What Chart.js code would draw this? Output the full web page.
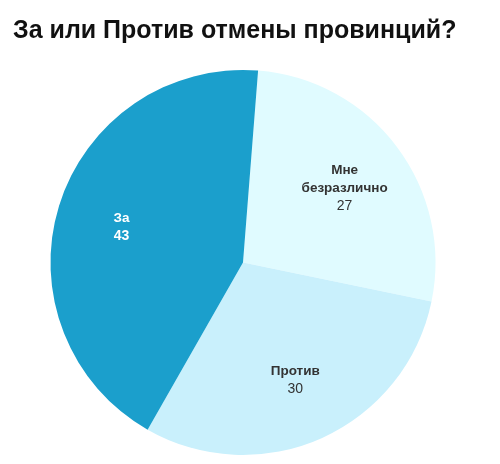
<!DOCTYPE html>
<html>
<head>
<meta charset="utf-8">
<script src="https://cdn.jsdelivr.net/npm/chart.js@4.4.1/dist/chart.umd.min.js"></script>
<style>
  html, body { margin: 0; padding: 0; background: #fff; }
  #wrap { width: 500px; height: 464px; }
</style>
</head>
<body>
<div id="wrap"><canvas id="pie"></canvas></div>
<script>
// данные
var titleText = "За или Против отмены провинций?";
var categories = [["Мне", "безразлично"], "Против", "За"];
var values = [27, 30, 43];
var sliceColors = ["#e0fbff", "#c9f0fc", "#1b9fcc"];
var labelColors = ["#333333", "#333333", "#ffffff"];
var valueBold = [false, false, true];

// подписи внутри секторов
var sliceLabels = {
    id: "sliceLabels",
    afterDatasetsDraw: function (chart) {
        var ctx = chart.ctx;
        var meta = chart.getDatasetMeta(0);
        meta.data.forEach(function (arc, i) {
            var p = arc.getProps(["x", "y", "startAngle", "endAngle", "outerRadius"], true);
            var mid = (p.startAngle + p.endAngle) / 2;
            var r = p.outerRadius * 0.66;
            var cx = p.x + Math.cos(mid) * r;
            var cy = p.y + Math.sin(mid) * r + 2;
            var lines = [].concat(categories[i]);
            var total = lines.length + 1;
            var lh = 18;
            var y0 = cy - (total - 1) * lh / 2;
            ctx.save();
            ctx.textAlign = "center";
            ctx.textBaseline = "middle";
            ctx.fillStyle = labelColors[i];
            ctx.font = "bold 13.5px 'Liberation Sans'";
            lines.forEach(function (t, k) {
                ctx.fillText(t, cx, y0 + k * lh);
            });
            ctx.font = (valueBold[i] ? "bold " : "") + "14px 'Liberation Sans'";
            ctx.fillText(String(values[i]), cx, y0 + lines.length * lh);
            ctx.restore();
        });
    }
};

new Chart(document.getElementById("pie"), {
    type: "pie",
    data: {
        labels: categories,
        datasets: [{
            data: values,
            backgroundColor: sliceColors,
            borderWidth: 0
        }]
    },
    options: {
        responsive: true,
        maintainAspectRatio: false,
        animation: false,
        rotation: 4.5,
        layout: {
            padding: { left: 13, right: 27, top: 0, bottom: 9 }
        },
        plugins: {
            legend: { display: false },
            tooltip: { enabled: false },
            title: {
                display: true,
                text: titleText,
                align: "start",
                color: "#111111",
                font: { family: "'Liberation Sans'", size: 25, weight: "bold" },
                padding: { top: 16, bottom: 24 }
            }
        }
    },
    plugins: [sliceLabels]
});
</script>
</body>
</html>
